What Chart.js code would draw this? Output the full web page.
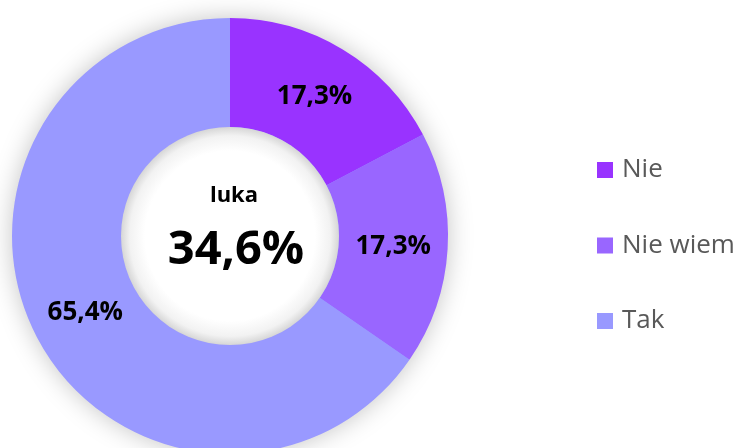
<!DOCTYPE html>
<html>
<head>
<meta charset="utf-8">
<script src="https://cdn.jsdelivr.net/npm/chart.js@4.4.0/dist/chart.umd.min.js"></script>
<style>
    html, body { margin: 0; padding: 0; background: #fff; overflow: hidden; width: 743px; height: 448px; }
    #wrap { position: absolute; left: 0; top: 0; width: 743px; height: 472px; }
</style>
</head>
<body>
<div id="wrap"><canvas id="lukaChart" width="743" height="472"></canvas></div>
<script>
// DATA
const labels = ['Nie', 'Nie wiem', 'Tak'];
const values = [17.3, 17.3, 65.4];
const colors = ['#9933FF', '#9966FF', '#9999FF'];
const centerTitle = 'luka';
const gapValue = values[0] + values[1];

function fmt(v) {
    return v.toFixed(1).replace('.', ',') + '%';
}

// soft shadow round the ring and inside the hole
const shadowPlugin = {
    id: 'ringShadow',
    beforeDatasetsDraw(chart) {
        const arc = chart.getDatasetMeta(0).data[0];
        const ctx = chart.ctx;
        ctx.save();
        ctx.shadowColor = 'rgba(0,0,0,0.25)';
        ctx.shadowBlur = 26;
        ctx.fillStyle = '#9999FF';
        ctx.beginPath();
        ctx.arc(arc.x, arc.y, arc.outerRadius - 1, 0, Math.PI * 2);
        ctx.fill();
        ctx.restore();
    },
    afterDatasetsDraw(chart) {
        const arc = chart.getDatasetMeta(0).data[0];
        const ctx = chart.ctx;
        const r = arc.innerRadius;
        ctx.save();
        const g = ctx.createRadialGradient(arc.x, arc.y, 0, arc.x, arc.y, r);
        g.addColorStop(0, '#ffffff');
        g.addColorStop(0.78, '#ffffff');
        g.addColorStop(0.92, '#f2f2f2');
        g.addColorStop(1, '#d6d6d6');
        ctx.fillStyle = g;
        ctx.beginPath();
        ctx.arc(arc.x, arc.y, r, 0, Math.PI * 2);
        ctx.fill();
        ctx.restore();
    }
};

// slice values, centre text and legend
const textPlugin = {
    id: 'ringText',
    afterDraw(chart) {
        const ctx = chart.ctx;
        const meta = chart.getDatasetMeta(0);
        ctx.save();
        ctx.fillStyle = '#000';
        ctx.textAlign = 'center';
        ctx.textBaseline = 'middle';
        ctx.font = 'bold 26px "Open Sans"';
        meta.data.forEach((arc, i) => {
            const p = arc.tooltipPosition();
            ctx.fillText(fmt(chart.data.datasets[0].data[i]), p.x, p.y + 1);
        });

        const c = meta.data[0];
        ctx.font = 'bold 22px "Open Sans"';
        ctx.fillText(centerTitle, c.x + 4, 196);
        ctx.font = 'bold 47px "Open Sans"';
        ctx.fillText(fmt(gapValue), c.x + 6, 251);

        // legend
        ctx.textAlign = 'left';
        ctx.font = '26px "Open Sans"';
        chart.data.labels.forEach((lab, i) => {
            const y = 162 + i * 75.5;
            ctx.fillStyle = chart.data.datasets[0].backgroundColor[i];
            ctx.fillRect(597, y, 16, 16);
            ctx.fillStyle = '#595959';
            ctx.fillText(lab, 622, y + 8);
        });
        ctx.restore();
    }
};

const ctxLuka = document.getElementById('lukaChart').getContext('2d');
const lukaChart = new Chart(ctxLuka, {
    type: 'doughnut',
    data: {
        labels: labels,
        datasets: [{
            data: values,
            backgroundColor: colors,
            borderWidth: 0
        }]
    },
    options: {
        responsive: false,
        animation: false,
        cutout: '50%',
        layout: {
            padding: { top: 18, bottom: 18, left: 12, right: 295 }
        },
        plugins: {
            legend: { display: false },
            tooltip: { enabled: false }
        }
    },
    plugins: [shadowPlugin, textPlugin]
});
</script>
</body>
</html>
